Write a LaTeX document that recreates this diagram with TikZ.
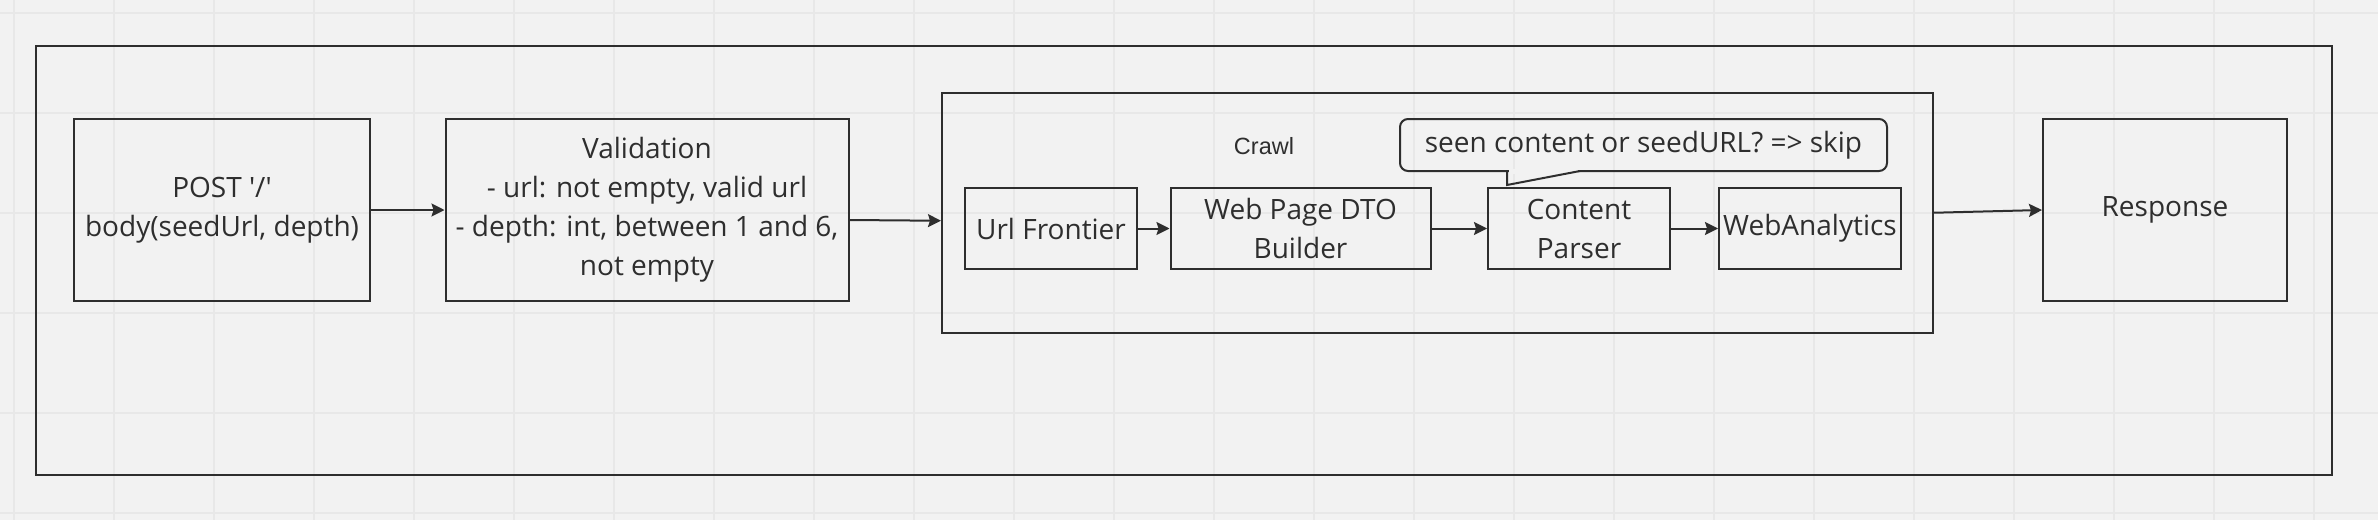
\documentclass[tikz,border=0pt]{standalone}
\usepackage{fontspec}
\setmainfont{Open Sans}[Ligatures=TeXOff]
\newfontfamily\crawlfont{Liberation Sans}
\usetikzlibrary{arrows.meta}
\definecolor{bg}{HTML}{F2F2F2}
\definecolor{gridc}{HTML}{E8E8E8}
\definecolor{ink}{HTML}{2E2E2E}
\begin{document}
\begin{tikzpicture}[x=1pt,y=-1pt,
  box/.style={draw=ink, line width=2pt, text=ink, align=center, inner sep=0pt,
    font=\fontsize{28pt}{39pt}\selectfont},
  arr/.style={draw=ink, line width=2pt, -{Stealth[length=13pt,width=13pt,inset=2pt]}},
  gridline/.style={draw=gridc, line width=2pt},
]
\path[use as bounding box, fill=bg] (0,0) rectangle (2378,520);
\foreach \gx in {13.5,113.5,...,2313.5} \draw[gridline] (\gx,0) -- (\gx,520);
\foreach \gy in {13.3,113.3,...,513.3} \draw[gridline] (0,\gy) -- (2378,\gy);

% outer frame
\node[box, minimum width=2296.5pt, minimum height=429.3pt] (outer) at (1183.75,260.35) {};

% main boxes
\node[box, minimum width=296pt, minimum height=182pt] (post) at (222,210) {POST '/'\\body(seedUrl, depth)};
\node[box, minimum width=403pt, minimum height=182pt] (val) at (647,210)
  {Validation\\- url: not empty, valid url\\- depth: int, between 1 and 6,\\not empty};
\node[box, minimum width=990.5pt, minimum height=240.5pt] (crawl) at (1437.25,212.75) {};
\node[text=ink, inner sep=0pt, font=\crawlfont\fontsize{23.5pt}{28pt}\selectfont] (crawllbl) at (1264,146) {Crawl};

\node[box, minimum width=172pt, minimum height=81pt] (url) at (1051,228.5) {Url Frontier};
\node[box, minimum width=260pt, minimum height=81pt] (web) at (1300.5,228.5) {Web Page DTO\\Builder};
\node[box, minimum width=182pt, minimum height=81pt] (cp) at (1579,228.5) {Content\\Parser};
\node[box, minimum width=182pt, minimum height=81pt] (wa) at (1810,228.5) {WebAnalytics};

\node[box, minimum width=244pt, minimum height=182pt] (resp) at (2165,210) {Response};

% callout
\node[box, rounded corners=8pt, minimum width=487pt, minimum height=52pt] (note) at (1643.5,145)
  {seen content or seedURL? => skip};
\fill[bg] (1508.5,168.5) rectangle (1578,173.5);
\draw[ink, line width=2pt, line join=miter] (1507,170) -- (1507,185) -- (1580,171);

% connectors
\draw[arr] (post) -- (val);
\draw[arr] ([yshift=-10pt]val.east) -- ([yshift=-8pt]crawl.west);
\draw[arr] (url) -- (web);
\draw[arr] (web) -- (cp);
\draw[arr] (cp) -- (wa);
\draw[arr] (crawl.east) -- (resp.west);
\end{tikzpicture}
\end{document}
